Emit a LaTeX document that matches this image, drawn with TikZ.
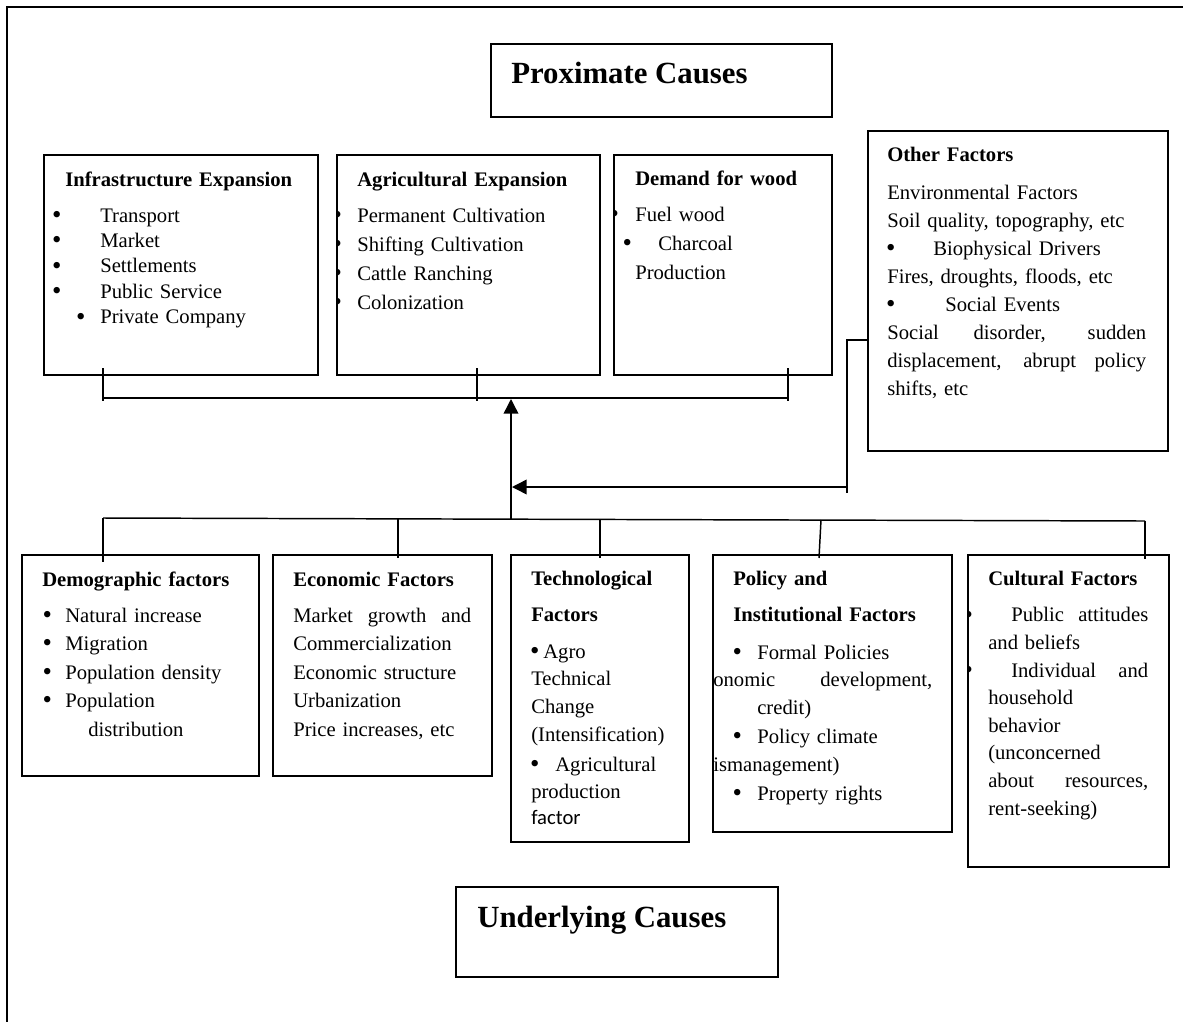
\documentclass[tikz,border=0pt]{standalone}
\usepackage{fontspec}
\setmainfont{Liberation Serif}
\newfontfamily\calib{Carlito}
\usetikzlibrary{arrows.meta,fit,positioning}
\newlength\pxu \setlength\pxu{0.75pt}
\newcommand\hx[1]{\hspace*{#1\pxu}}
\newcommand\blt{\makebox[7.2\pxu]{\raisebox{-0.06em}{\scalebox{1.3}{\textbullet}}}}
\newcommand\lblt[1]{\leavevmode\llap{\blt\hx{#1}}}
\newcommand\spread[2]{{\spaceskip=.25em plus 1fil\relax\makebox[#1\pxu][s]{#2}}}
\tikzset{
  cbox/.style={draw, line width=1.5pt, inner sep=0pt},
  txt/.style={anchor=base west, inner sep=0pt, text width=#1, align=left,
    font=\fontsize{15.5}{21}\selectfont},
  conn/.style={line width=1.1pt},
  arr/.style={conn, -{Triangle[length=11pt,width=11pt]}},
  title/.style={anchor=base west, inner sep=0pt, font=\fontsize{23.1}{28}\selectfont\bfseries}
}
\begin{document}
\begin{tikzpicture}[x=0.75pt,y=-0.75pt]
  \useasboundingbox (0,0) rectangle (1183,1022);
  \draw[line width=1.3pt] (7,1022) -- (7,7) -- (1183,7);

  % proximate causes
  \node[cbox, fit={(491,44) (832,117)}] (prox) {};
  \node[title] (proxtxt) at (511,83) {Proximate Causes};

  \node[cbox, fit={(44,155) (318,375)}] (infra) {};
  \node[cbox, fit={(337,155) (600,375)}] (agri) {};
  \node[cbox, fit={(614,155) (832,375)}] (wood) {};
  \node[cbox, fit={(868,131) (1168,451)}] (other) {};

  \node[txt=250pt, font=\fontsize{15.5}{19.1}\selectfont] (infratxt) at (53,186)
    {\hx{12}\textbf{Infrastructure Expansion}\\[7.9pt]
     \makebox[47\pxu][l]{\blt}Transport\\
     \makebox[47\pxu][l]{\blt}Market\\
     \makebox[47\pxu][l]{\blt}Settlements\\
     \makebox[47\pxu][l]{\blt}Public Service\\
     \hx{24}\makebox[23\pxu][l]{\blt}Private Company};
  \begin{scope}
    \clip (agri.north west) rectangle (agri.south east);
    \node[txt=250pt, font=\fontsize{15.5}{21.75}\selectfont] (agritxt) at (357,186)
      {\textbf{Agricultural Expansion}\\[5.25pt]
       \lblt{16.4}Permanent Cultivation\\
       \lblt{16.4}Shifting Cultivation\\
       \lblt{16.4}Cattle Ranching\\
       \lblt{16.4}Colonization};
  \end{scope}
  \begin{scope}
    \clip (wood.north west) rectangle (wood.south east);
    \node[txt=250pt, font=\fontsize{15.5}{22.1}\selectfont] (woodtxt) at (635,185)
      {\textbf{Demand for wood}\\[4.9pt]
       \lblt{17.4}Fuel wood\\
       \lblt{4.4}\hx{23}Charcoal\\
       Production};
  \end{scope}
  \node[txt=250pt] (othertxt) at (887,161)
    {\textbf{Other Factors}\\[7.5pt]
     Environmental Factors\\
     Soil quality, topography, etc\\
     \makebox[46\pxu][l]{\blt}Biophysical Drivers\\
     Fires, droughts, floods, etc\\
     \makebox[58\pxu][l]{\blt}Social Events\\
     \spread{259}{Social disorder, sudden}\\
     \spread{259}{displacement, abrupt policy}\\
     shifts, etc};

  % connectors
  \coordinate (busL) at (103,398);
  \coordinate (busM) at (477,398);
  \coordinate (busR) at (788,398);
  \draw[conn] (busL) ++(0,-30) -- ++(0,33);
  \draw[conn] (busM) ++(0,-30) -- ++(0,33);
  \draw[conn] (busR) ++(0,-30) -- ++(0,33);
  \draw[conn] (busL) -- (busR);

  \coordinate (lowL) at (103,518);
  \coordinate (lowR) at (1145,521);
  \coordinate (lowM) at (511,519);
  \draw[conn] (lowL) -- (lowR);
  \draw[arr] (lowM) -- (511,399);

  \coordinate (fbtop) at (847,340);
  \coordinate (fbmid) at (847,487);
  \coordinate (fbbot) at (847,493);
  \coordinate (fbtip) at (512,487);
  \draw[conn] (other.west |- fbtop) -- (fbtop) -- (fbbot);
  \draw[arr] (fbmid) -- (fbtip);

  % underlying causes
  \node[cbox, fit={(22,555) (259,776)}] (demog) {};
  \node[cbox, fit={(273,555) (492,776)}] (econ) {};
  \node[cbox, fit={(511,555) (689,842)}] (tech) {};
  \node[cbox, fit={(713,555) (952,832)}] (policy) {};
  \node[cbox, fit={(968,555) (1169,867)}] (cult) {};

  \draw[conn] (lowL) -- (103,562);
  \draw[conn] (398,519) -- (398,558);
  \draw[conn] (600,519) -- (600,558);
  \draw[conn] (821,520) -- (819,558);
  \draw[conn] (lowR) -- (1145,559);

  \node[txt=250pt, font=\fontsize{15.5}{21.4}\selectfont] (demogtxt) at (42,586)
    {\textbf{Demographic factors}\\[5.6pt]
     \hx{1.4}\makebox[21.6\pxu][l]{\blt}Natural increase\\
     \hx{1.4}\makebox[21.6\pxu][l]{\blt}Migration\\
     \hx{1.4}\makebox[21.6\pxu][l]{\blt}Population density\\
     \hx{1.4}\makebox[21.6\pxu][l]{\blt}Population\\
     \hx{46}distribution};
  \node[txt=250pt, font=\fontsize{15.5}{21.4}\selectfont] (econtxt) at (293,586)
    {\textbf{Economic Factors}\\[5.6pt]
     \spread{178}{Market growth and}\\
     Commercialization\\
     Economic structure\\
     Urbanization\\
     Price increases, etc};
  \node[txt=250pt, font=\fontsize{15.5}{20.8}\selectfont] (techtxt) at (531,585)
    {\textbf{Technological}\\[6.2pt]
     \textbf{Factors}\\[6.95pt]
     \blt\hx{4.8}Agro\\
     Technical\\
     Change\\
     (Intensification)\\[1.7pt]
     \blt\hx{16.8}Agricultural\\
     production\\[-1.3pt]
     {\calib factor}};
  \begin{scope}
    \clip (policy.north west) rectangle (policy.south east);
    \node[txt=250pt, font=\fontsize{15.5}{20.8}\selectfont] (policytxt) at (713,585)
      {\hx{20}\textbf{Policy and}\\[6.2pt]
       \hx{20}\textbf{Institutional Factors}\\[7.7pt]
       \hx{20.4}\makebox[23.6\pxu][l]{\blt}Formal Policies\\
       \spread{219}{onomic development,}\\
       \hx{44}credit)\\[1pt]
       \hx{20.4}\makebox[23.6\pxu][l]{\blt}Policy climate\\
       ismanagement)\\[0.9pt]
       \hx{20.4}\makebox[23.6\pxu][l]{\blt}Property rights};
  \end{scope}
  \begin{scope}
    \clip (cult.north west) rectangle (cult.south east);
    \node[txt=250pt, font=\fontsize{15.5}{20.7}\selectfont] (culttxt) at (988,585)
      {\textbf{Cultural Factors}\\[7pt]
       \lblt{16.4}\hx{23}\spread{137}{Public attitudes}\\
       and beliefs\\
       \lblt{16.4}\hx{23}\spread{137}{Individual and}\\
       household\\
       behavior\\
       (unconcerned\\
       \spread{160}{about resources,}\\
       rent-seeking)};
  \end{scope}

  \node[cbox, fit={(456,887) (778,977)}] (under) {};
  \node[title] (undertxt) at (477,927) {Underlying Causes};
\end{tikzpicture}
\end{document}
